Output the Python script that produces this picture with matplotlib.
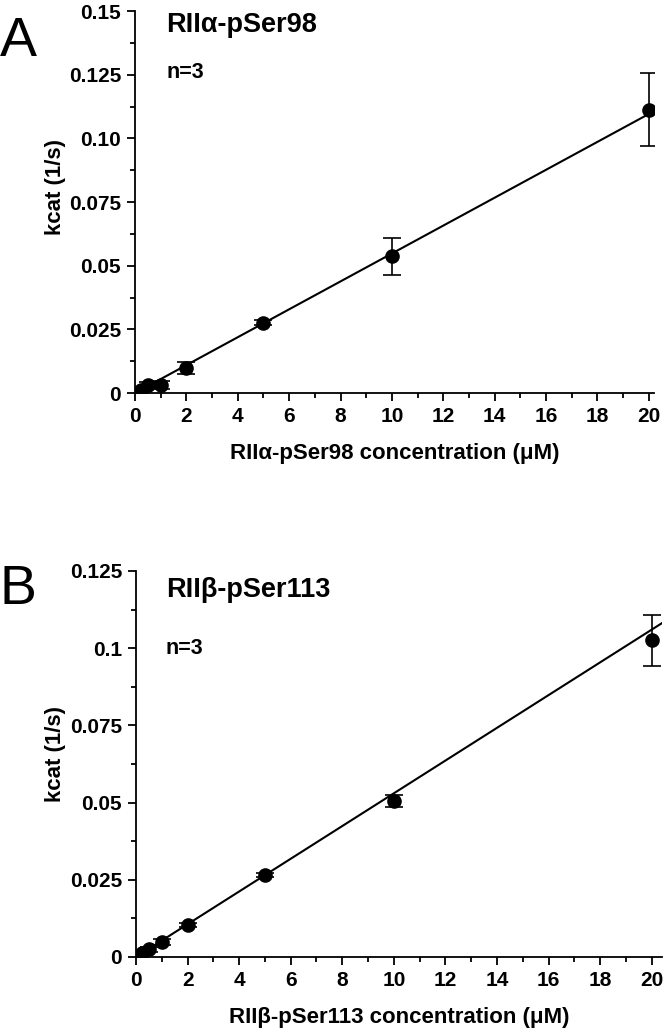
import numpy as np
import matplotlib
matplotlib.use("Agg")
import matplotlib.pyplot as plt
from matplotlib.ticker import MultipleLocator, FixedLocator

plt.rcParams["font.family"] = ["Liberation Sans", "DejaVu Sans"]
plt.rcParams["font.weight"] = "bold"

# concentration (uM)
conc = [0.25, 0.5, 1, 2, 5, 10, 20]

# panel A: RIIa-pSer98
kcat_a = [0.0012, 0.003, 0.003, 0.0097, 0.0276, 0.0537, 0.1112]
err_a = [0.0008, 0.0012, 0.0016, 0.0023, 0.001, 0.0072, 0.0143]
slope_a, icpt_a = 0.00548, 0.0
fit_x_a = [0.25, 20]

# panel B: RIIb-pSer113
kcat_b = [0.0012, 0.0025, 0.0048, 0.0103, 0.0265, 0.0505, 0.1025]
err_b = [0.0006, 0.0008, 0.001, 0.0007, 0.0007, 0.0018, 0.0082]
slope_b, icpt_b = 0.0053, 0.0
fit_x_b = [0.2, 20.4]

yticks_a = [0, 0.025, 0.05, 0.075, 0.10, 0.125, 0.15]
ylabels_a = ["0", "0.025", "0.05", "0.075", "0.10", "0.125", "0.15"]
yticks_b = [0, 0.025, 0.05, 0.075, 0.1, 0.125]
ylabels_b = ["0", "0.025", "0.05", "0.075", "0.1", "0.125"]

fig = plt.figure(figsize=(6.66, 10.34), dpi=100)
ax_a = fig.add_axes([0.2027, 0.6199, 0.7793, 0.3694])
ax_b = fig.add_axes([0.2042, 0.0745, 0.7898, 0.3733])


def draw(ax, y, e, slope, icpt, fx, xmax, ymax, yt, yl, name, ty, ny, tx, ly):
    fx = np.array(fx)
    ax.plot(fx, slope * fx + icpt, color="black", lw=1.5, zorder=2)
    ax.errorbar(conc, y, yerr=e, fmt="o", color="black", ms=9.5,
                capsize=6.5, elinewidth=1.2, capthick=1.2, zorder=3)
    ax.set_xlim(0, xmax)
    ax.set_ylim(0, ymax)
    ax.spines["top"].set_visible(False)
    ax.spines["right"].set_visible(False)
    for s in ("left", "bottom"):
        ax.spines[s].set_linewidth(1.3)
    ax.xaxis.set_major_locator(MultipleLocator(2))
    ax.xaxis.set_minor_locator(MultipleLocator(1))
    ax.yaxis.set_major_locator(FixedLocator(yt))
    ax.yaxis.set_minor_locator(MultipleLocator(0.0125))
    ax.set_yticklabels(yl)
    ax.tick_params(which="major", length=6, width=1.3, labelsize=15, pad=4)
    ax.tick_params(which="minor", length=3.5, width=1.3)
    for lab in ax.get_xticklabels() + ax.get_yticklabels():
        lab.set_fontweight("bold")
    ax.set_xlabel(name + " concentration (μM)", fontsize=16,
                  fontweight="bold", labelpad=12)
    ax.set_ylabel("kcat (1/s)", fontsize=16, fontweight="bold")
    ax.yaxis.set_label_coords(-0.133, ly)
    ax.text(tx, ty, name, transform=ax.transAxes, fontsize=19.5,
            fontweight="bold", va="center", ha="left")
    ax.text(tx, ny, "n=3", transform=ax.transAxes, fontsize=15.5,
            fontweight="bold", va="center", ha="left")
    return ax


draw(ax_a, kcat_a, err_a, slope_a, icpt_a, fit_x_a, 20.2, 0.15,
     yticks_a, ylabels_a, "RIIα-pSer98", 0.963, 0.84, 0.06, 0.54)
draw(ax_b, kcat_b, err_b, slope_b, icpt_b, fit_x_b, 20.4, 0.125,
     yticks_b, ylabels_b, "RIIβ-pSer113", 0.951, 0.80, 0.057, 0.526)

fig.text(0.0, 1 - 42 / 1034, "A", fontsize=40, fontweight="normal",
         va="center", ha="left")
fig.text(0.0, 1 - 590 / 1034, "B", fontsize=40, fontweight="normal",
         va="center", ha="left")

fig.savefig("out.png", dpi=100)
